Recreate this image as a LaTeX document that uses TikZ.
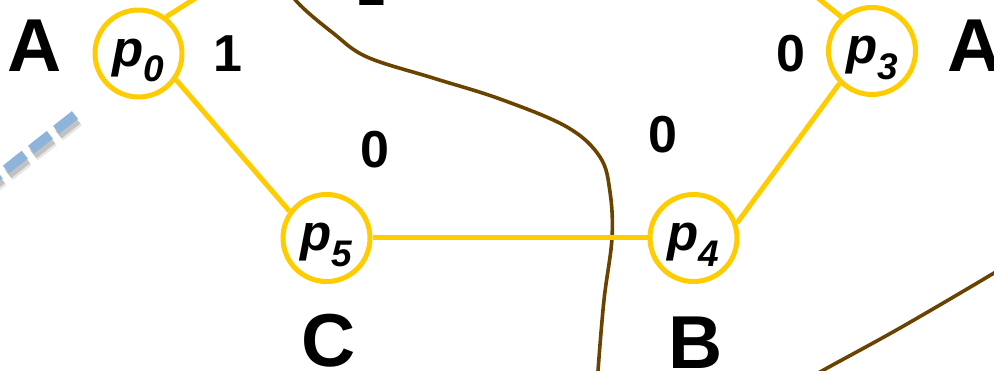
\documentclass[tikz,border=0pt]{standalone}
\usepackage{fontspec}
\setmainfont{Liberation Sans}
\definecolor{ringyellow}{HTML}{FFCC00}
\definecolor{cutbrown}{HTML}{6A4300}
\definecolor{linkblue}{HTML}{8FB4DA}
\tikzset{
  proc/.style={circle, draw=ringyellow, line width=5pt, minimum size=87pt, inner sep=0pt,
               text height=26pt, text depth=0pt, font=\bfseries\itshape},
  link/.style={draw=ringyellow, line width=5pt},
  weight/.style={anchor=base, inner sep=0pt, font=\fontsize{52}{52}\selectfont\bfseries},
  group/.style={anchor=base, inner sep=0pt, font=\fontsize{75}{75}\selectfont\bfseries},
  cut/.style={draw=cutbrown, line width=3.6pt},
}
\newcommand{\pname}[1]{{\fontsize{51}{51}\selectfont p}\raisebox{-15.5pt}{\fontsize{37}{37}\selectfont #1}}
\begin{document}
\begin{tikzpicture}[x=1pt,y=-1pt]
  \useasboundingbox (0,0) rectangle (994,371);
  \clip (0,0) rectangle (994,371);

  % cut curves
  \draw[cut] plot[smooth, tension=0.6] coordinates {(280,-20) (300,5) (333,33) (367,57) (433,78) (500,99) (567,127) (600,157) (610,192) (612,238) (604,300) (598,371) (597,395)};
  \draw[cut] plot[smooth, tension=0.6] coordinates {(790,390) (820,372) (900,328) (994,273) (1020,256)};

  % dashed link leaving to the lower left (with soft shadow)
  \coordinate (dA) at (75,115);
  \coordinate (dB) at (-25,194);
  \begin{scope}[dash pattern=on 24pt off 8pt]
    \draw[gray, opacity=0.2, line width=14pt, transform canvas={xshift=2.5pt, yshift=-5pt}] (dA) -- (dB);
    \draw[gray, opacity=0.35, line width=9pt, transform canvas={xshift=2.5pt, yshift=-5pt}] (dA) -- (dB);
    \draw[linkblue, line width=10pt] (dA) -- (dB);
  \end{scope}

  % processes
  \node[proc] (p0) at (138.5,53.5) {\pname{0}};
  \node[proc] (p3) at (872,51) {\pname{3}};
  \node[proc] (p5) at (326.5,238) {\pname{5}};
  \node[proc] (p4) at (693.5,238) {\pname{4}};

  % links leaving the frame
  \coordinate (t0) at (240,-30);
  \coordinate (t3) at (783,-30);
  \draw[link] (p0.53) -- (t0);
  \draw[link] (p3.132) -- (t3);

  % links between processes
  \draw[link] (p0.-35) -- (p5.144);
  \draw[link] (p5.east) -- (p4.west);
  \draw[link] (p3.225) -- (p4.19);

  % weights
  \node[weight] (w1) at (228,72) {1};
  \node[weight] (w2) at (375,168) {0};
  \node[weight] (w3) at (791,72) {0};
  \node[weight] (w4) at (663,153) {0};
  \node[weight] (w5) at (371,6) {1};

  % group letters
  \node[group] (gA1) at (35,72) {A};
  \node[group] (gA2) at (975,72) {A};
  \node[group] (gC) at (329,367) {C};
  \node[group] (gB) at (695.5,369) {B};
\end{tikzpicture}
\end{document}
